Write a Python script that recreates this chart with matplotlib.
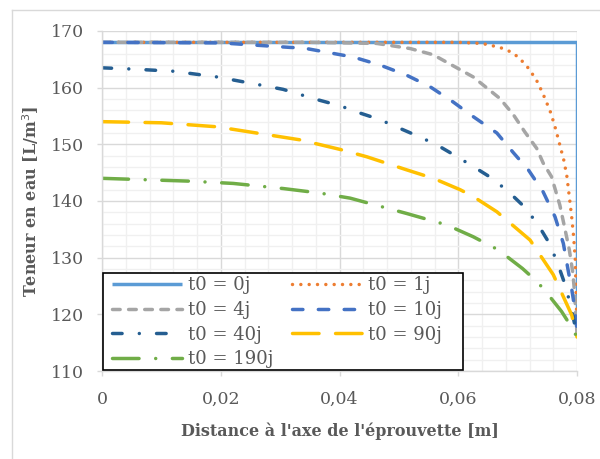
import matplotlib
matplotlib.use("Agg")
import matplotlib.pyplot as plt
from matplotlib.lines import Line2D
from matplotlib.patches import Rectangle
from matplotlib.ticker import MultipleLocator

plt.rcParams["font.family"] = ["DejaVu Serif"]
plt.rcParams["lines.scale_dashes"] = False

# distance to the specimen axis [m] / water content [L/m3]
dist_0j = [0, 0.08, 0.08]
ten_0j = [168, 168, 116.5]

dist_1j = [0, 0.06, 0.064, 0.0666, 0.0679, 0.0690, 0.0701, 0.0711, 0.072, 0.0734,
           0.0746, 0.0756, 0.0764, 0.0771, 0.0778, 0.0783, 0.0788, 0.0791, 0.0794,
           0.0797, 0.0799, 0.08]
ten_1j = [168, 168, 167.8, 167.2, 166.8, 166.2, 165.4, 164.3, 163.2, 160.9,
          158.1, 155.5, 152.7, 149.9, 147.1, 144.3, 139.9, 137.2, 134.0,
          129.9, 121.4, 116.5]

dist_4j = [0, 0.035, 0.0463, 0.0519, 0.0558, 0.0625, 0.067, 0.0693, 0.0712, 0.0732,
           0.0743, 0.0757, 0.0771, 0.078, 0.0787, 0.0793, 0.0796, 0.08]
ten_4j = [168, 168, 167.8, 166.9, 165.8, 161.9, 158.1, 155.2, 152.2, 149.3,
          146.7, 144.3, 139.3, 134.9, 131.4, 127.3, 123.7, 116.5]

dist_10j = [0, 0.02, 0.0317, 0.0339, 0.0423, 0.0468, 0.0513, 0.0552, 0.0591, 0.0625,
            0.0665, 0.0693, 0.0718, 0.0743, 0.0763, 0.0777, 0.0785, 0.0791, 0.0797, 0.08]
ten_10j = [168, 167.9, 167.1, 167.0, 165.4, 164.0, 162.2, 160.2, 157.5, 154.9,
           152.0, 148.5, 145.5, 141.6, 137.2, 132.5, 127.8, 124.5, 120.5, 117]

dist_40j = [0, 0.0047, 0.012, 0.0193, 0.026, 0.0305, 0.0362, 0.0401, 0.0435, 0.0467,
            0.0502, 0.0533, 0.0564, 0.0595, 0.0625, 0.0657, 0.0686, 0.0711, 0.0734,
            0.0753, 0.0767, 0.0779, 0.0789, 0.0797, 0.08]
ten_40j = [163.5, 163.3, 162.9, 161.9, 160.6, 159.7, 157.9, 156.8, 155.5, 154.4,
           152.8, 151.4, 149.9, 148.0, 146.1, 144.0, 141.5, 139.0, 135.9,
           132.6, 129.1, 125.5, 121.7, 117.8, 116.5]

dist_90j = [0, 0.01, 0.0193, 0.0333, 0.0401, 0.0446, 0.0513, 0.0558, 0.0603, 0.0625,
            0.0665, 0.0721, 0.076, 0.0791, 0.08]
ten_90j = [154, 153.8, 153.1, 150.8, 149.1, 147.8, 145.5, 144.0, 142.0, 140.8,
           138.1, 133.1, 127.0, 119.9, 116]

dist_190j = [0, 0.0148, 0.0221, 0.0305, 0.0367, 0.0418, 0.0513, 0.058, 0.0625, 0.0647,
             0.0667, 0.0708, 0.0726, 0.0743, 0.0774, 0.0788, 0.08]
ten_190j = [144, 143.5, 143.1, 142.2, 141.4, 140.5, 137.8, 135.8, 133.7, 132.5,
            131.4, 128.1, 126.4, 124.6, 120.5, 118.2, 116]

labels = ["t0 = 0j", "t0 = 1j", "t0 = 4j", "t0 = 10j", "t0 = 40j", "t0 = 90j", "t0 = 190j"]
x_ticks = [0, 0.02, 0.04, 0.06, 0.08]
x_tick_labels = ["0", "0,02", "0,04", "0,06", "0,08"]
y_ticks = [110, 120, 130, 140, 150, 160, 170]

series = [
    (dist_0j, ten_0j, "#5B9BD5", "-"),
    (dist_1j, ten_1j, "#ED7D31", (0, (0.01, 5.99))),
    (dist_4j, ten_4j, "#A5A5A5", (0, (5.5, 6.1))),
    (dist_10j, ten_10j, "#4472C4", (0, (7.5, 11.1))),
    (dist_40j, ten_40j, "#255E91", (0, (6.9, 12.4, 0.01, 12.4))),
    (dist_90j, ten_90j, "#FFC000", (0, (19.1, 11.9))),
    (dist_190j, ten_190j, "#70AD47", (0, (19.1, 12.0, 0.01, 12.0))),
]

fig = plt.figure(figsize=(6, 4.59), dpi=100)
ax = fig.add_axes([0.17, 0.1917, 0.7917, 0.7408])

handles = []
for (x, y, color, ls), lab in zip(series, labels):
    line, = ax.plot(x, y, color=color, linestyle=ls, lw=2.5,
                    dash_capstyle="round", solid_capstyle="butt", label=lab)
    handles.append(line)

ax.set_xlim(0, 0.08)
ax.set_ylim(110, 170)
ax.set_xticks(x_ticks)
ax.set_xticklabels(x_tick_labels)
ax.set_yticks(y_ticks)
ax.xaxis.set_minor_locator(MultipleLocator(0.004))
ax.yaxis.set_minor_locator(MultipleLocator(2))

ax.grid(which="major", color="#D9D9D9", lw=1.0)
ax.grid(which="minor", color="#F0F0F0", lw=1.0)
ax.set_axisbelow(True)
for side in ["top", "right"]:
    ax.spines[side].set_visible(False)
for side in ["left", "bottom"]:
    ax.spines[side].set_color("#D9D9D9")
    ax.spines[side].set_linewidth(1.0)

ax.tick_params(which="major", length=3.75, width=1.0, color="#D9D9D9",
               labelsize=12.5, labelcolor="#595959")
ax.tick_params(axis="x", pad=10.5)
ax.tick_params(axis="y", pad=9.5)
ax.tick_params(which="minor", length=0)

ax.set_xlabel("Distance à l'axe de l'éprouvette [m]", fontsize=11.5,
              fontweight="bold", color="#595959", va="center")
ax.xaxis.set_label_coords(0.5, -0.1785)
ax.set_ylabel("Teneur en eau [L/m$^3$]", fontsize=11.5, fontweight="bold",
              color="#595959", va="center")
ax.yaxis.set_label_coords(-0.1495, 0.5)

# legend box (frame drawn separately, Excel style: extra room on the right)
ax.add_patch(Rectangle((0.002, 0.003), 0.758, 0.285, transform=ax.transAxes,
                       facecolor="white", edgecolor="black", lw=1.2, zorder=4))
order = [0, 2, 4, 6, 1, 3, 5]
leg = ax.legend([handles[i] for i in order], [labels[i] for i in order],
                ncol=2, loc="upper left", bbox_to_anchor=(0.0204, 0.279),
                frameon=False, fontsize=13, handlelength=3.88,
                handletextpad=0.36, columnspacing=1.0, labelspacing=0.37,
                borderpad=0, borderaxespad=0)
leg.set_zorder(5)
for t in leg.get_texts():
    t.set_color("#595959")

# outer chart border
fig.add_artist(Line2D([12 / 600, 12 / 600], [0, 1 - 10 / 459], color="#D9D9D9", lw=1.0))
fig.add_artist(Line2D([12 / 600, 1], [1 - 10 / 459, 1 - 10 / 459], color="#D9D9D9", lw=1.0))

fig.savefig("out.png", dpi=100)
